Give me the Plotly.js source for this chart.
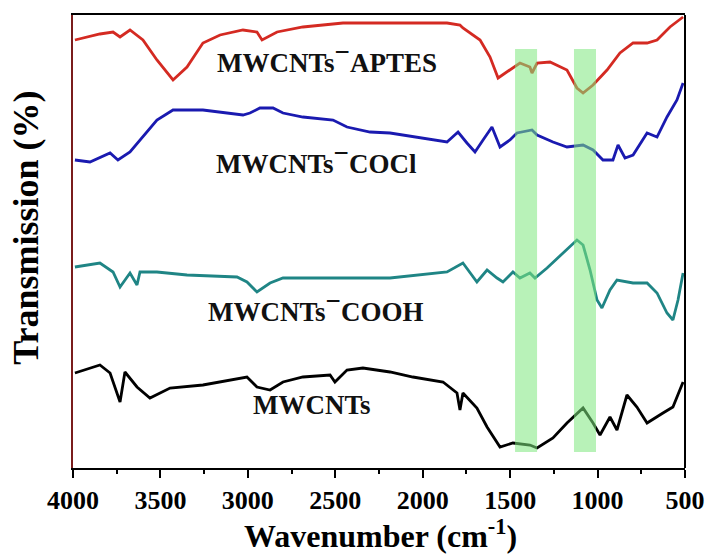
<!DOCTYPE html>
<html>
<head>
<meta charset="utf-8">
<script src="https://cdn.plot.ly/plotly-3.0.1.min.js"></script>
<style>html,body{margin:0;padding:0;background:#fff;}#chart{width:705px;height:554px;}</style>
</head>
<body>
<div id="chart"></div>
<script>
// Wavenumbers (cm-1) and transmission values (offset, arbitrary units)
const apWn  = [3989,3846,3771,3731,3674,3600,3520,3428,3348,3257,3159,3028,2948,2919,2833,2685,2456,2187,1861,1787,1770,1672,1615,1569,1518,1444,1387,1375,1346,1272,1175,1118,1083,1026,946,872,797,717,660,586,511];
const apVal = [428,434,436,431,438,428,408,388,401,425,433,438,436,428,436,441,445,445,445,443,440,428,411,390,396,405,401,395,405,406,398,380,375,383,398,415,425,425,428,441,451];

const coclWn  = [3989,3903,3788,3743,3674,3600,3520,3428,3257,3028,2988,2931,2856,2799,2685,2513,2433,2301,2187,1861,1798,1747,1701,1655,1604,1558,1501,1461,1375,1346,1255,1175,1083,1026,969,912,883,843,797,717,660,603,546,511];
const coclVal = [308,306,315,308,316,331,348,358,358,353,355,360,360,355,351,348,341,336,335,326,336,325,316,328,341,321,328,335,338,333,326,321,323,318,308,308,323,310,313,335,331,351,368,385];

const coohWn  = [3989,3846,3771,3731,3674,3634,3617,3520,3348,3062,3005,2948,2873,2799,2490,2187,1861,1770,1690,1632,1575,1541,1484,1444,1387,1358,1289,1198,1118,1083,1043,1003,975,929,889,797,717,660,603,569,540,511];
const coohVal = [201,205,196,181,195,183,196,196,193,191,186,176,185,190,190,190,196,205,186,198,190,186,196,190,195,190,200,215,228,223,198,168,160,178,188,185,185,175,155,148,168,195];

const cntWn  = [3989,3846,3788,3731,3703,3634,3560,3445,3257,3102,3005,2948,2873,2799,2685,2530,2502,2433,2342,2187,2056,1884,1804,1787,1770,1690,1632,1558,1484,1387,1346,1255,1175,1083,1026,986,929,889,832,775,717,626,569,511];
const cntVal = [95,103,95,66,96,81,70,80,83,88,91,81,78,86,91,93,86,98,100,96,91,86,75,58,75,60,41,21,25,23,20,30,45,60,45,33,51,38,73,61,45,55,61,86];

const seriesNames = ['MWCNTs−APTES','MWCNTs−COCl','MWCNTs−COOH','MWCNTs'];
const bands = [[1472,1346],[1135,1009]];
const tickVals = [4000,3500,3000,2500,2000,1500,1000,500];
const tickLabels = ['4000','3500','3000','2500','2000','1500','1000','500'];
const xTitle = 'Wavenumber (cm<sup>-1</sup>)';
const yTitle = 'Transmission (%)';

const colors = ['#d42a22','#1a1ab0','#1f8585','#000000'];
const xs = [apWn, coclWn, coohWn, cntWn];
const ys = [apVal, coclVal, coohVal, cntVal];

const traces = xs.map((x,i)=>({
  x: x, y: ys[i], type:'scatter', mode:'lines', name: seriesNames[i],
  line:{color:colors[i], width:2.8, shape:'linear'}, hoverinfo:'skip'
}));

const serif = 'Liberation Serif';
const labelPos = [[2547,411],[2610,310],[2616,162],[2633,63]];
const annotations = seriesNames.map((n,i)=>({
  x: labelPos[i][0], y: labelPos[i][1], xref:'x', yref:'y',
  text: '<b>' + n.replace('−','<sup><span style="font-size:27px">−</span></sup>') + '</b>',
  showarrow:false, font:{family:serif, size:27, color:'#111'}
}));
annotations.push({
  xref:'paper', yref:'paper', x:0.502, y:-0.195, xanchor:'center', yanchor:'bottom',
  text:'<b>'+xTitle+'</b>', showarrow:false, font:{family:serif, size:32, color:'#000'}
});
annotations.push({
  xref:'paper', yref:'paper', x:-0.077, y:0.53, xanchor:'center', yanchor:'middle', textangle:-90,
  text:'<b>'+yTitle+'</b>', showarrow:false, font:{family:serif, size:36, color:'#000'}
});

const shapes = bands.map(b=>({
  type:'rect', xref:'x', yref:'y', x0:b[0], x1:b[1], y0:16, y1:419,
  fillcolor:'rgba(125,232,125,0.55)', line:{width:0}, layer:'above'
}));
shapes.push({type:'line', xref:'paper', yref:'paper', x0:1, x1:1, y0:0, y1:1, line:{color:'#000', width:2}});

const layout = {
  width:705, height:554,
  margin:{l:73, r:20, t:15, b:86},
  paper_bgcolor:'#fff', plot_bgcolor:'#fff',
  showlegend:false,
  font:{family:serif, color:'#000'},
  xaxis:{
    range:[4000,500], tickmode:'array', tickvals:tickVals, ticktext:tickLabels.map(t=>'<b>'+t+'</b>'),
    ticks:'outside', ticklen:8, tickwidth:2, tickcolor:'#000',
    minor:{dtick:250, ticks:'outside', ticklen:4, tickwidth:1.5, tickcolor:'#000'},
    showline:true, linecolor:'#000', linewidth:2, mirror:true, showgrid:false, zeroline:false,
    tickfont:{family:serif, size:26, color:'#000'}
  },
  yaxis:{
    range:[0,453], showticklabels:false, ticks:'', showgrid:false, zeroline:false,
    showline:true, linecolor:'#7a1c1c', linewidth:2
  },
  annotations: annotations,
  shapes: shapes
};

Plotly.newPlot('chart', traces, layout, {displayModeBar:false});
</script>
</body>
</html>
